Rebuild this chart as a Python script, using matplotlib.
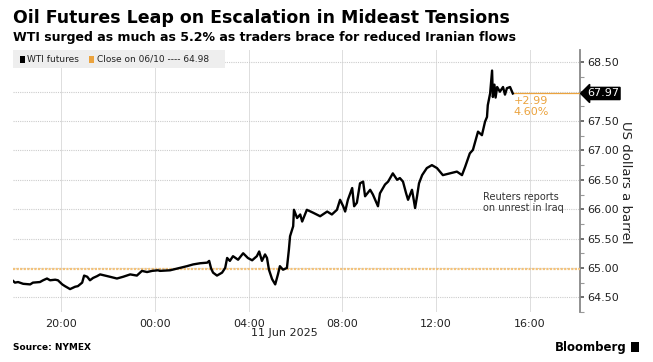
import numpy as np
import matplotlib.pyplot as plt
import matplotlib.dates as mdates
import matplotlib.transforms as mtransforms
from matplotlib.patches import Rectangle

# WTI futures, 10-11 Jun 2025
times = ["06-10 17:57", "06-10 18:02", "06-10 18:10", "06-10 18:23", "06-10 18:41", "06-10 18:48",
         "06-10 19:06", "06-10 19:14", "06-10 19:24", "06-10 19:32", "06-10 19:45", "06-10 19:52",
         "06-10 20:03", "06-10 20:10", "06-10 20:23", "06-10 20:36", "06-10 20:43", "06-10 20:54",
         "06-10 20:59", "06-10 21:07", "06-10 21:14", "06-10 21:22", "06-10 21:32", "06-10 21:40",
         "06-10 21:53", "06-10 22:05", "06-10 22:23", "06-10 22:39", "06-10 22:57", "06-10 23:14",
         "06-10 23:27", "06-10 23:40", "06-10 23:53", "06-11 00:08", "06-11 00:13", "06-11 00:39",
         "06-11 01:04", "06-11 01:22", "06-11 01:38", "06-11 01:56", "06-11 02:14", "06-11 02:19",
         "06-11 02:24", "06-11 02:29", "06-11 02:39", "06-11 02:52", "06-11 03:00", "06-11 03:05",
         "06-11 03:12", "06-11 03:20", "06-11 03:33", "06-11 03:46", "06-11 03:58", "06-11 04:09",
         "06-11 04:21", "06-11 04:27", "06-11 04:34", "06-11 04:42", "06-11 04:47", "06-11 04:52",
         "06-11 05:00", "06-11 05:08", "06-11 05:15", "06-11 05:20", "06-11 05:28", "06-11 05:38",
         "06-11 05:43", "06-11 05:46", "06-11 05:54", "06-11 05:56", "06-11 06:04", "06-11 06:12",
         "06-11 06:17", "06-11 06:29", "06-11 06:45", "06-11 07:03", "06-11 07:21", "06-11 07:33",
         "06-11 07:46", "06-11 07:54", "06-11 08:02", "06-11 08:07", "06-11 08:14", "06-11 08:25",
         "06-11 08:30", "06-11 08:37", "06-11 08:45", "06-11 08:53", "06-11 08:58", "06-11 09:11",
         "06-11 09:18", "06-11 09:31", "06-11 09:36", "06-11 09:49", "06-11 09:57", "06-11 10:09",
         "06-11 10:20", "06-11 10:27", "06-11 10:35", "06-11 10:43", "06-11 10:48", "06-11 10:58",
         "06-11 11:01", "06-11 11:06", "06-11 11:11", "06-11 11:16", "06-11 11:24", "06-11 11:36",
         "06-11 11:49", "06-11 12:02", "06-11 12:17", "06-11 12:35", "06-11 12:53", "06-11 13:06",
         "06-11 13:14", "06-11 13:26", "06-11 13:34", "06-11 13:47", "06-11 13:57", "06-11 14:05",
         "06-11 14:10", "06-11 14:12", "06-11 14:18", "06-11 14:23", "06-11 14:25", "06-11 14:29",
         "06-11 14:32", "06-11 14:36", "06-11 14:43", "06-11 14:51", "06-11 14:56", "06-11 15:01",
         "06-11 15:09", "06-11 15:16"]
prices = [64.78, 64.75, 64.76, 64.73, 64.72, 64.75,
          64.76, 64.79, 64.82, 64.79, 64.80, 64.79,
          64.72, 64.69, 64.64, 64.68, 64.69, 64.75,
          64.87, 64.85, 64.79, 64.83, 64.86, 64.89,
          64.87, 64.85, 64.82, 64.85, 64.89, 64.87,
          64.95, 64.93, 64.95, 64.96, 64.95, 64.96,
          65.00, 65.03, 65.06, 65.08, 65.09, 65.12,
          64.99, 64.92, 64.87, 64.92, 65.00, 65.17,
          65.12, 65.20, 65.14, 65.25, 65.17, 65.13,
          65.20, 65.28, 65.12, 65.23, 65.17, 64.97,
          64.81, 64.72, 64.89, 65.03, 64.97, 65.00,
          65.31, 65.54, 65.71, 65.99, 65.85, 65.91,
          65.79, 65.99, 65.94, 65.88, 65.96, 65.91,
          65.99, 66.16, 66.05, 65.96, 66.16, 66.36,
          66.05, 66.11, 66.44, 66.47, 66.22, 66.33,
          66.25, 66.05, 66.27, 66.42, 66.47, 66.61,
          66.50, 66.53, 66.47, 66.27, 66.16, 66.33,
          66.22, 66.02, 66.22, 66.44, 66.58, 66.70,
          66.75, 66.70, 66.58, 66.61, 66.64, 66.58,
          66.72, 66.95, 67.01, 67.32, 67.26, 67.49,
          67.57, 67.77, 67.97, 68.36, 67.91, 68.12,
          67.90, 68.08, 68.00, 68.08, 67.95, 68.06,
          68.08, 67.97]
prev_close = 64.98
last_price = 67.97
change = "+2.99"
change_pct = "4.60%"
y_ticks = [64.5, 65.0, 65.5, 66.0, 66.5, 67.0, 67.5, 68.0, 68.5]
x_ticks = ["06-10 20:00", "06-11 00:00", "06-11 04:00", "06-11 08:00", "06-11 12:00", "06-11 16:00"]

orange = "#eba33e"
W, H = 653, 362

t = np.array(["2025-" + s.replace(" ", "T") for s in times], dtype="datetime64[m]").astype("O")
xt = np.array(["2025-" + s.replace(" ", "T") for s in x_ticks], dtype="datetime64[m]").astype("O")
x0 = np.datetime64("2025-06-10T17:57").astype("O")
x1 = np.datetime64("2025-06-11T18:08").astype("O")

fig = plt.figure(figsize=(W / 100, H / 100), dpi=100)
ax = fig.add_axes([13 / W, 1 - 312 / H, (580 - 13) / W, (312 - 50) / H])

ax.plot(t, prices, color="black", lw=1.7, zorder=5)
ax.axhline(prev_close, color="#f3c27a", lw=1.6, ls=(0, (1, 0.6)), zorder=3)
ax.plot([t[-1], x1], [last_price, last_price], color=orange, lw=0.9, zorder=4)

ax.set_xlim(x0, x1)
ax.set_ylim(64.25, 68.71)
ax.set_xticks(xt)
ax.xaxis.set_major_formatter(mdates.DateFormatter("%H:%M"))
ax.set_yticks(y_ticks)
ax.set_yticks(np.arange(64.25, 68.7, 0.25), minor=True)
ax.yaxis.tick_right()
# the 68.00 label sits under the last-price tag
ax.set_yticklabels(["" if v == 68.0 else f"{v:.2f}" for v in y_ticks])
ax.tick_params(axis="y", which="major", length=3, width=1.2, color="#555555", pad=2,
               labelsize=8, labelcolor="#222222")
ax.tick_params(axis="y", which="minor", length=3, width=0.8, color="#999999")
ax.tick_params(axis="x", length=0, pad=5, labelsize=8, labelcolor="#222222")
for s in ["top", "left", "bottom"]:
    ax.spines[s].set_visible(False)
ax.spines["right"].set_color("#888888")
ax.spines["right"].set_linewidth(1.3)
ax.grid(axis="y", which="major", color="#cccccc", ls=(0, (1, 1)), lw=0.8)
ax.grid(axis="x", color="#dddddd", ls="-", lw=0.7)

# last price tag
ax.annotate(f"{last_price:.2f}", xy=(1.0, last_price), xycoords=("axes fraction", "data"),
            xytext=(5, 0), textcoords="offset points", va="center", ha="left",
            fontsize=8, color="white", zorder=10,
            bbox=dict(boxstyle="larrow,pad=0.1", fc="black", ec="black"))
ax.text(t[-1], last_price, change + "\n" + change_pct, color=orange, fontsize=8,
        va="top", ha="left", linespacing=1.05,
        transform=ax.transData + mtransforms.ScaledTranslation(1 / 100, -3 / 100, fig.dpi_scale_trans))

fig.text(483 / W, 1 - 192 / H, "Reuters reports\non unrest in Iraq", fontsize=7, color="#333333",
         va="top", ha="left", linespacing=1.1)

# legend strip
fig.patches.append(Rectangle((13 / W, 1 - 68 / H), (225 - 13) / W, 18 / H,
                             transform=fig.transFigure, fc="#eeeeee", ec="none", zorder=1))
fig.patches.append(Rectangle((20 / W, 1 - 63 / H), 5 / W, 7 / H,
                             transform=fig.transFigure, fc="black", ec="none", zorder=2))
fig.text(27 / W, 1 - 59 / H, "WTI futures", fontsize=6.5, va="center", color="#222222")
fig.patches.append(Rectangle((89 / W, 1 - 63 / H), 5 / W, 7 / H,
                             transform=fig.transFigure, fc=orange, ec="none", zorder=2))
fig.text(97 / W, 1 - 59 / H, f"Close on 06/10 ---- {prev_close:.2f}", fontsize=6.5,
         va="center", color="#222222")

fig.text(13 / W, 1 - 18 / H, "Oil Futures Leap on Escalation in Mideast Tensions",
         fontsize=12.5, fontweight="bold", va="center", ha="left")
fig.text(13 / W, 1 - 37 / H, "WTI surged as much as 5.2% as traders brace for reduced Iranian flows",
         fontsize=9, fontweight="bold", va="center", ha="left")
fig.text(625 / W, 1 - 182 / H, "US dollars a barrel", fontsize=9.5, rotation=270,
         va="center", ha="center", color="#222222")
fig.text(284 / W, 1 - 333 / H, "11 Jun 2025", fontsize=8, ha="center", va="center", color="#222222")
fig.text(13 / W, 1 - 348 / H, "Source: NYMEX", fontsize=6.5, fontweight="bold", va="center")
fig.text(627 / W, 1 - 347 / H, "Bloomberg", fontsize=8.5, fontweight="bold", va="center", ha="right")
fig.patches.append(Rectangle((631 / W, 1 - 352 / H), 8 / W, 10 / H,
                             transform=fig.transFigure, fc="black", ec="none"))

fig.savefig("out.png", dpi=100)
